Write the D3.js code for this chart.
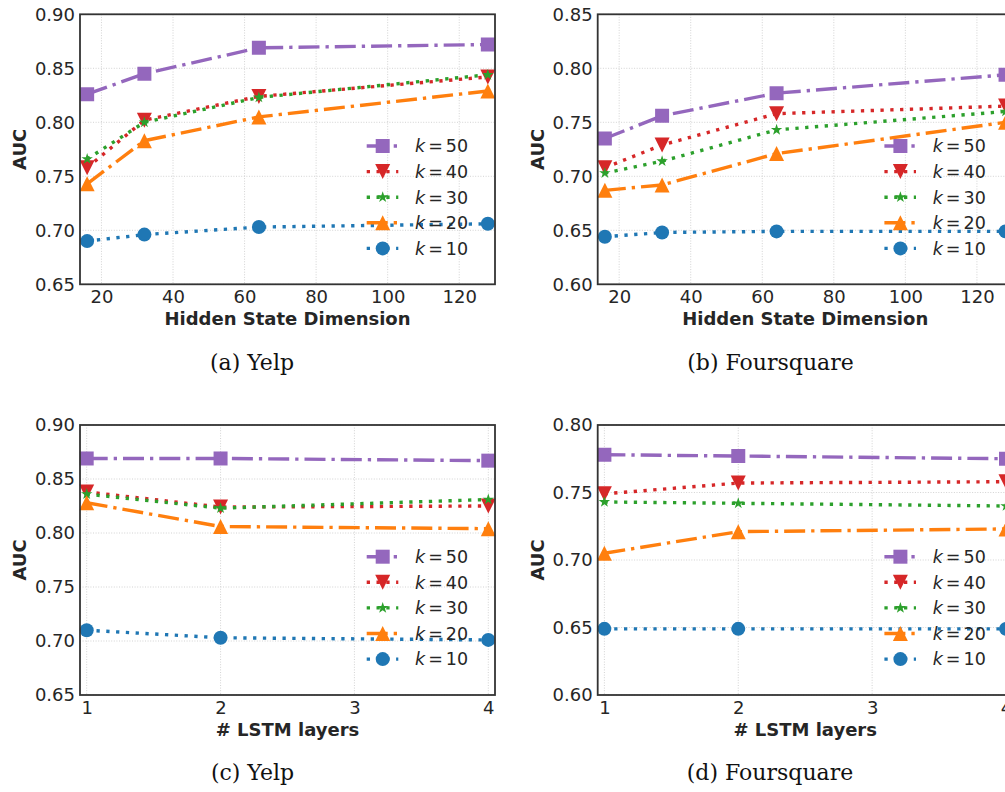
<!DOCTYPE html>
<html><head><meta charset="utf-8">
<script src="https://cdn.jsdelivr.net/npm/d3@7"></script>
<style>body{margin:0;background:#fff} svg{display:block}</style>
</head><body><svg id="c" width="1005" height="792"></svg>
<script>
// ---------- data ----------
const kValues = [50, 40, 30, 20, 10];
const hiddenDims = [16, 32, 64, 128];
const lstmLayers = [1, 2, 4];
const hiddenTicks = [20, 40, 60, 80, 100, 120];
const layerTicks = [1, 2, 3, 4];
const yTicksYelp = [0.65, 0.70, 0.75, 0.80, 0.85, 0.90];
const yTicksFsqHidden = [0.60, 0.65, 0.70, 0.75, 0.80, 0.85];
const yTicksFsqLayers = [0.60, 0.65, 0.70, 0.75, 0.80];

// rows follow kValues order: k=50, 40, 30, 20, 10
const yelpHiddenAUC = [
  [0.826, 0.845, 0.869, 0.872],
  [0.758, 0.802, 0.824, 0.842],
  [0.766, 0.800, 0.823, 0.844],
  [0.743, 0.783, 0.805, 0.829],
  [0.690, 0.696, 0.703, 0.706]
];
const fsqHiddenAUC = [
  [0.735, 0.756, 0.777, 0.794],
  [0.708, 0.729, 0.758, 0.765],
  [0.703, 0.714, 0.743, 0.760],
  [0.687, 0.692, 0.721, 0.750],
  [0.644, 0.648, 0.649, 0.649]
];
const yelpLayersAUC = [
  [0.869, 0.869, 0.867],
  [0.838, 0.824, 0.825],
  [0.836, 0.823, 0.831],
  [0.828, 0.806, 0.804],
  [0.710, 0.703, 0.701]
];
const fsqLayersAUC = [
  [0.778, 0.777, 0.775],
  [0.749, 0.757, 0.758],
  [0.743, 0.742, 0.740],
  [0.705, 0.721, 0.723],
  [0.649, 0.649, 0.649]
];

// ---------- styles ----------
const seriesColors = ["#9467bd", "#d62728", "#2ca02c", "#ff7f0e", "#1f77b4"];
const seriesDash = ["dashdot", "dotted", "dotted", "dashdot", "dotted"];
const seriesMarker = ["square", "tridown", "star", "triup", "circle"];
const dashPatterns = { dashdot: "21,6,3.3,6", dotted: "3.3,6.5" };
const LW = 3.4;

function markerPath(type) {
  if (type === "square") return "M-7,-7h14v14h-14z";
  if (type === "tridown") return "M0,7.5L-7.5,-7.5L7.5,-7.5Z";
  if (type === "triup") return "M0,-7.5L-7.5,7.5L7.5,7.5Z";
  if (type === "circle") return d3.symbol(d3.symbolCircle, Math.PI * 7 * 7)();
  if (type === "star") {
    const R = 6, r = R * 0.381966; let p = "";
    for (let i = 0; i < 10; i++) {
      const a = -Math.PI / 2 + i * Math.PI / 5, rr = i % 2 ? r : R;
      p += (i ? "L" : "M") + (rr * Math.cos(a)).toFixed(2) + "," + (rr * Math.sin(a)).toFixed(2);
    }
    return p + "Z";
  }
}

const W = 415, H = 270;
const panels = [
  { id: "a", left: 80, top: 14.3, xs: hiddenDims, data: yelpHiddenAUC, xDomain: [14, 130], xTicks: hiddenTicks,
    yDomain: [0.65, 0.90], yTicks: yTicksYelp, xLabel: "Hidden State Dimension", caption: "(a) Yelp", capX: 252, capY: 370 },
  { id: "b", left: 597.7, top: 14.3, xs: hiddenDims, data: fsqHiddenAUC, xDomain: [14, 130], xTicks: hiddenTicks,
    yDomain: [0.60, 0.85], yTicks: yTicksFsqHidden, xLabel: "Hidden State Dimension", caption: "(b) Foursquare", capX: 770.5, capY: 370 },
  { id: "c", left: 80, top: 425, xs: lstmLayers, data: yelpLayersAUC, xDomain: [0.95, 4.05], xTicks: layerTicks,
    yDomain: [0.65, 0.90], yTicks: yTicksYelp, xLabel: "# LSTM layers", caption: "(c) Yelp", capX: 252.5, capY: 780 },
  { id: "d", left: 597.7, top: 425, xs: lstmLayers, data: fsqLayersAUC, xDomain: [0.95, 4.05], xTicks: layerTicks,
    yDomain: [0.60, 0.80], yTicks: yTicksFsqLayers, xLabel: "# LSTM layers", caption: "(d) Foursquare", capX: 770, capY: 780 }
];

const svg = d3.select("#c");
const textColor = "#262626";
const sans = "'DejaVu Sans', sans-serif";

panels.forEach(P => {
  const g = svg.append("g").attr("transform", `translate(${P.left},${P.top})`);
  const x = d3.scaleLinear().domain(P.xDomain).range([0, W]);
  const y = d3.scaleLinear().domain(P.yDomain).range([H, 0]);

  // grid
  g.append("g").selectAll("line").data(P.xTicks).join("line")
    .attr("x1", d => x(d)).attr("x2", d => x(d)).attr("y1", 0).attr("y2", H)
    .attr("stroke", "#c8c8c8").attr("stroke-width", 0.8).attr("stroke-dasharray", "1,1.6");
  g.append("g").selectAll("line").data(P.yTicks).join("line")
    .attr("y1", d => y(d)).attr("y2", d => y(d)).attr("x1", 0).attr("x2", W)
    .attr("stroke", "#c8c8c8").attr("stroke-width", 0.8).attr("stroke-dasharray", "1,1.6");

  // axes (labels only)
  const xa = g.append("g").attr("transform", `translate(0,${H})`)
    .call(d3.axisBottom(x).tickValues(P.xTicks).tickSize(0).tickPadding(6).tickFormat(d3.format("d")));
  const ya = g.append("g")
    .call(d3.axisLeft(y).tickValues(P.yTicks).tickSize(0).tickPadding(5).tickFormat(d3.format(".2f")));
  [xa, ya].forEach(a => {
    a.select(".domain").remove();
    a.selectAll("text").attr("font-family", sans).attr("font-size", 18).attr("fill", textColor);
  });

  // clip
  svg.append("clipPath").attr("id", "clip-" + P.id).append("rect")
    .attr("x", -1).attr("y", -8).attr("width", W + 2).attr("height", H + 16);

  const lineGen = d3.line().x((d, i) => x(P.xs[i])).y(d => y(d));
  const dataG = g.append("g").attr("clip-path", `url(#clip-${P.id})`);
  P.data.forEach((vals, s) => {
    dataG.append("path").attr("d", lineGen(vals)).attr("fill", "none")
      .attr("stroke", seriesColors[s]).attr("stroke-width", LW)
      .attr("stroke-dasharray", dashPatterns[seriesDash[s]]);
    dataG.append("g").selectAll("path").data(vals).join("path")
      .attr("transform", (d, i) => `translate(${x(P.xs[i])},${y(d)})`)
      .attr("d", markerPath(seriesMarker[s])).attr("fill", seriesColors[s]);
  });

  // frame
  g.append("rect").attr("width", W).attr("height", H).attr("fill", "none")
    .attr("stroke", "#333").attr("stroke-width", 1.8);

  // legend
  const lg = g.append("g");
  kValues.forEach((k, s) => {
    const ry = H - 138.3 + s * 25.6;
    const row = lg.append("g").attr("transform", `translate(${W - 128.3},${ry})`);
    row.append("line").attr("x1", 0).attr("x2", 31.6).attr("y1", 0).attr("y2", 0)
      .attr("stroke", seriesColors[s]).attr("stroke-width", LW)
      .attr("stroke-dasharray", dashPatterns[seriesDash[s]]);
    row.append("path").attr("transform", "translate(16,0)").attr("d", markerPath(seriesMarker[s]))
      .attr("fill", seriesColors[s]);
    const t = row.append("text").attr("x", 48.3).attr("y", 0).attr("dy", "0.36em")
      .attr("font-family", sans).attr("font-size", 17.5).attr("fill", textColor);
    t.append("tspan").attr("font-style", "italic").text("k");
    t.append("tspan").attr("dx", 3).text("=");
    t.append("tspan").attr("dx", 3).text(String(k));
  });

  // axis titles
  g.append("text").attr("x", W / 2).attr("y", H + 41).attr("text-anchor", "middle")
    .attr("font-family", sans).attr("font-weight", "bold").attr("font-size", 18).attr("fill", textColor)
    .text(P.xLabel);
  g.append("text").attr("transform", `translate(-54,${H / 2}) rotate(-90)`).attr("text-anchor", "middle")
    .attr("font-family", sans).attr("font-weight", "bold").attr("font-size", 18).attr("fill", textColor)
    .text("AUC");

  // caption
  svg.append("text").attr("x", P.capX).attr("y", P.capY).attr("text-anchor", "middle")
    .attr("font-family", "'DejaVu Serif', serif").attr("font-size", 22).attr("fill", "#111")
    .text(P.caption);
});
</script>
</body></html>
